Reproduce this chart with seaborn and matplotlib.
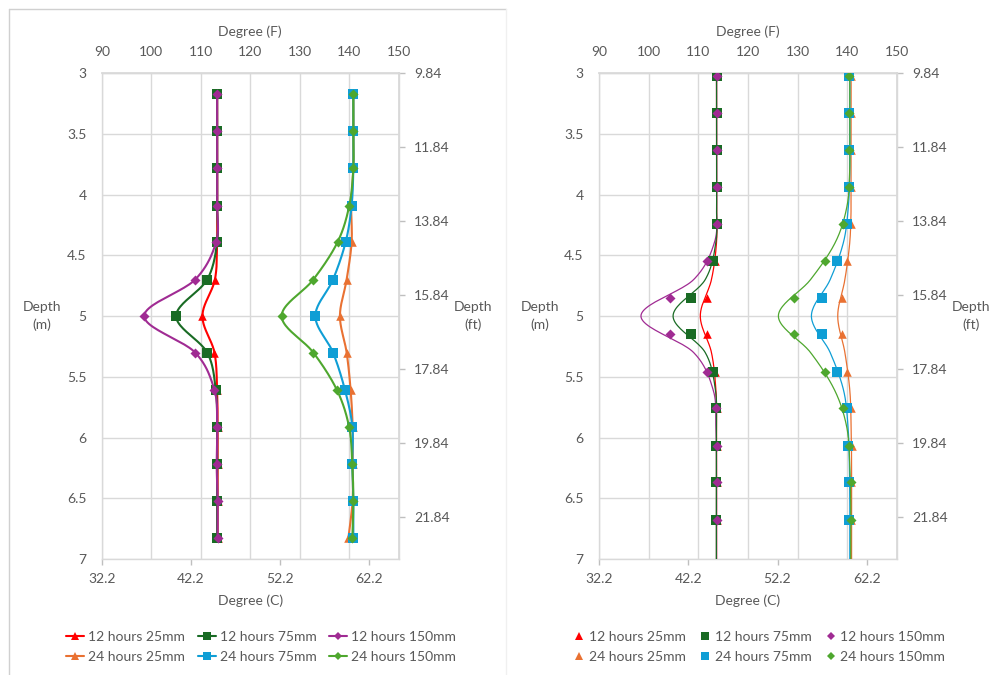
import numpy as np
import matplotlib
matplotlib.use("Agg")
import matplotlib.pyplot as plt
from matplotlib.lines import Line2D
import seaborn as sns

sns.set_theme(style="white")
plt.rcParams['font.family'] = ['Lato', 'DejaVu Sans']

# ---- data ----
series_names = ['12 hours 25mm', '12 hours 75mm', '12 hours 150mm',
                '24 hours 25mm', '24 hours 75mm', '24 hours 150mm']
series_colors = ['#FF0000', '#196B24', '#A02B93', '#E97132', '#0F9ED5', '#4EA72E']
series_markers = ['^', 's', 'D', '^', 's', 'D']

# left panel: lines with markers, depth (m)
depth_left = [3.17, 3.48, 3.78, 4.09, 4.39, 4.70, 5.00, 5.30, 5.61, 5.91, 6.22, 6.52, 6.83]
h12_25 = [45.15, 45.15, 45.15, 45.15, 45.15, 44.90, 43.50, 44.85, 45.15, 45.20, 45.20, 45.20, 45.20]
h12_75 = [45.15, 45.15, 45.15, 45.15, 45.15, 44.03, 40.55, 44.03, 45.00, 45.15, 45.15, 45.15, 45.15]
h12_150 = [45.15, 45.15, 45.15, 45.15, 45.04, 42.68, 36.97, 42.68, 44.85, 45.15, 45.10, 45.20, 45.20]
h24_25 = [60.43, 60.43, 60.43, 60.20, 60.24, 59.68, 58.93, 59.68, 60.13, 60.35, 60.35, 60.35, 59.87]
h24_75 = [60.43, 60.43, 60.43, 60.24, 59.57, 58.15, 56.17, 58.15, 59.50, 60.32, 60.32, 60.43, 60.43]
h24_150 = [60.43, 60.43, 60.43, 59.98, 58.67, 55.94, 52.39, 55.94, 58.60, 59.95, 60.32, 60.43, 60.32]

# right panel: smooth lines (no markers) ...
depth_rline = [3.00, 3.17, 3.48, 3.78, 4.09, 4.39, 4.70, 5.00, 5.30, 5.61, 5.91, 6.22, 6.52, 6.83, 7.00]
r12_25_line = [45.37, 45.37, 45.37, 45.37, 45.37, 45.37, 44.80, 43.55, 44.80, 45.30, 45.37, 45.37, 45.37, 45.37, 45.37]
r12_75_line = [45.37, 45.37, 45.37, 45.37, 45.37, 45.30, 44.10, 40.50, 44.10, 45.25, 45.35, 45.35, 45.35, 45.35, 45.35]
r12_150_line = [45.37, 45.37, 45.37, 45.37, 45.37, 45.15, 42.80, 36.90, 42.80, 45.00, 45.30, 45.37, 45.37, 45.37, 45.37]
r24_25_line = [60.45, 60.45, 60.45, 60.45, 60.45, 60.30, 59.75, 58.95, 59.75, 60.30, 60.45, 60.50, 60.50, 60.50, 60.50]
r24_75_line = [60.30, 60.30, 60.30, 60.30, 60.15, 59.60, 58.10, 56.00, 58.10, 59.60, 60.10, 60.25, 60.30, 60.30, 60.30]
r24_150_line = [60.30, 60.30, 60.30, 60.30, 60.00, 58.70, 55.90, 52.30, 55.90, 58.60, 59.95, 60.30, 60.40, 60.40, 60.40]

# ... and markers at shifted depths
depth_rmark = [3.02, 3.33, 3.63, 3.94, 4.24, 4.55, 4.85, 5.15, 5.46, 5.76, 6.07, 6.37, 6.68]
r12_25 = [45.37, 45.37, 45.37, 45.37, 45.37, 45.22, 44.28, 44.28, 45.22, 45.37, 45.37, 45.37, 45.37]
r12_75 = [45.37, 45.37, 45.37, 45.37, 45.37, 44.92, 42.53, 42.53, 44.92, 45.30, 45.30, 45.30, 45.30]
r12_150 = [45.37, 45.37, 45.37, 45.37, 45.37, 44.28, 40.10, 40.10, 44.28, 45.30, 45.37, 45.37, 45.37]
r24_25 = [60.41, 60.41, 60.41, 60.41, 60.41, 60.04, 59.40, 59.40, 60.04, 60.41, 60.55, 60.45, 60.45]
r24_75 = [60.26, 60.26, 60.26, 60.26, 59.96, 58.85, 57.16, 57.16, 58.85, 59.96, 60.15, 60.26, 60.26]
r24_150 = [60.26, 60.26, 60.26, 60.26, 59.59, 57.57, 54.06, 54.06, 57.57, 59.50, 60.26, 60.41, 60.41]

c_ticks = [32.2, 42.2, 52.2, 62.2]
f_ticks = [90, 100, 110, 120, 130, 140, 150]
m_ticks = [3, 3.5, 4, 4.5, 5, 5.5, 6, 6.5, 7]
ft_ticks = [9.84, 11.84, 13.84, 15.84, 17.84, 19.84, 21.84]

GRAY = '#595959'
GRID = '#d9d9d9'
W, H = 992, 675


def c2f(c):
    return np.asarray(c) * 1.8 + 32


def f2c(f):
    return (np.asarray(f) - 32) / 1.8


def m2ft(m):
    return np.asarray(m) * 3.28084


def ft2m(ft):
    return np.asarray(ft) / 3.28084


def smooth(x, y, sx=8.92, sy=121.5, n=24):
    # Excel-like smoothed line (Catmull-Rom Bezier in screen-ish space)
    pts = np.column_stack([np.asarray(x) * sx, np.asarray(y) * sy])
    P = np.vstack([pts[0], pts, pts[-1]])
    t = np.linspace(0, 1, n)[:, None]
    segs = []
    for i in range(1, len(P) - 2):
        p0, p1, p2, p3 = P[i - 1], P[i], P[i + 1], P[i + 2]
        c1 = p1 + (p2 - p0) / 6
        c2 = p2 - (p3 - p1) / 6
        segs.append((1 - t) ** 3 * p1 + 3 * (1 - t) ** 2 * t * c1
                    + 3 * (1 - t) * t ** 2 * c2 + t ** 3 * p2)
    s = np.vstack(segs)
    return s[:, 0] / sx, s[:, 1] / sy


def px_axes(x0, y0, x1, y1):
    return [x0 / W, 1 - y1 / H, (x1 - x0) / W, (y1 - y0) / H]


def style_axes(ax):
    ax.set_xlim(f2c(90), f2c(150))
    ax.set_ylim(7, 2.999)
    ax.set_axisbelow(True)
    ax.set_xticks(c_ticks)
    ax.set_xticklabels([f'{v:.1f}' for v in c_ticks])
    ax.set_xticks(f2c(f_ticks), minor=True)
    ax.set_yticks(m_ticks)
    ax.set_yticklabels([f'{v:g}' for v in m_ticks])
    ax.grid(False)
    ax.grid(True, which='minor', axis='x', color=GRID, lw=1)
    ax.grid(True, which='major', axis='y', color=GRID, lw=1)
    ax.tick_params(axis='x', which='minor', length=0)
    ax.tick_params(axis='x', which='major', direction='out', length=4, width=1,
                   color='#bfbfbf', labelsize=10, labelcolor=GRAY, pad=6, bottom=True)
    ax.tick_params(axis='y', length=0, labelsize=10, labelcolor=GRAY, pad=11)
    for s in ax.spines.values():
        s.set_color(GRID)
        s.set_linewidth(1)
    ax.set_xlabel('')
    ax.set_ylabel('')

    top = ax.secondary_xaxis('top', functions=(c2f, f2c))
    top.set_xticks(f_ticks)
    top.set_xticklabels([str(v) for v in f_ticks])
    top.tick_params(length=0, labelsize=10, labelcolor=GRAY, pad=11)
    top.spines['top'].set_color(GRID)

    right = ax.secondary_yaxis('right', functions=(m2ft, ft2m))
    right.set_yticks(ft_ticks)
    right.set_yticklabels([f'{v:.2f}' for v in ft_ticks])
    right.tick_params(length=4, width=1, direction='out', color='#bfbfbf',
                      labelsize=10, labelcolor=GRAY, pad=7)
    right.spines['right'].set_color(GRID)


fig = plt.figure(figsize=(W / 100, H / 100), dpi=100)
ax1 = fig.add_axes(px_axes(101.7, 73, 399, 559))
ax2 = fig.add_axes(px_axes(599, 73, 896.7, 559))

# chart-area border of the left chart
fig.add_artist(Line2D([9 / W, 506 / W], [1 - 9 / H, 1 - 9 / H], color='#d0d0d0', lw=1))
fig.add_artist(Line2D([9 / W, 9 / W], [1 - 9 / H, 0], color='#d0d0d0', lw=1))
fig.add_artist(Line2D([506 / W, 506 / W], [1 - 9 / H, 0], color='#f0f0f0', lw=1))

left_vals = [h12_25, h12_75, h12_150, h24_25, h24_75, h24_150]
rline_vals = [r12_25_line, r12_75_line, r12_150_line, r24_25_line, r24_75_line, r24_150_line]
rmark_vals = [r12_25, r12_75, r12_150, r24_25, r24_75, r24_150]
msize = {'^': 38, 's': 42, 'D': 26}

for i, (vals, col, mk) in enumerate(zip(left_vals, series_colors, series_markers)):
    cx, cy = smooth(vals, depth_left)
    sns.lineplot(x=cx, y=cy, sort=False, estimator=None, color=col,
                 linewidth=1.5, ax=ax1, zorder=2 + 2 * i)
    sns.scatterplot(x=vals, y=depth_left, marker=mk, s=msize[mk], color=col,
                    linewidth=0, ax=ax1, zorder=3 + 2 * i, legend=False)

# in the right panel the dark green 12-hour line sits on top
line_z = [2, 5, 3, 4, 6, 7]
for i, (lv, col) in enumerate(zip(rline_vals, series_colors)):
    cx, cy = smooth(lv, depth_rline)
    sns.lineplot(x=cx, y=cy, sort=False, estimator=None, color=col,
                 linewidth=0.9, ax=ax2, zorder=line_z[i])
for i, (mv, col, mk) in enumerate(zip(rmark_vals, series_colors, series_markers)):
    sns.scatterplot(x=mv, y=depth_rmark, marker=mk, s=msize[mk], color=col,
                    linewidth=0, ax=ax2, zorder=10 + i, legend=False)

for ax in (ax1, ax2):
    style_axes(ax)

# axis titles
for cx_, lx, rx in ((250.3, 42, 473), (747.7, 540, 971)):
    fig.text(cx_ / W, 1 - 32 / H, 'Degree (F)', ha='center', va='center', fontsize=10, color=GRAY)
    fig.text(cx_ / W, 1 - 601 / H, 'Degree (C)', ha='center', va='center', fontsize=10, color=GRAY)
    fig.text(lx / W, 1 - 316 / H, 'Depth\n(m)', ha='center', va='center', fontsize=10,
             color=GRAY, linespacing=1.5)
    fig.text(rx / W, 1 - 316 / H, 'Depth\n(ft)', ha='center', va='center', fontsize=10,
             color=GRAY, linespacing=1.5)

# legends (order so rows read 12 hours / 24 hours)
order = [0, 3, 1, 4, 2, 5]
h_left = [Line2D([], [], color=series_colors[k], marker=series_markers[k], lw=1.5,
                 markersize=6 if series_markers[k] != 'D' else 4.5, markeredgewidth=0) for k in order]
h_right = [Line2D([], [], color=series_colors[k], marker=series_markers[k], lw=0,
                  markersize=6 if series_markers[k] != 'D' else 4.5, markeredgewidth=0) for k in order]
labels = [series_names[k] for k in order]

fig.legend(h_left, labels, ncol=3, loc='center', bbox_to_anchor=(261 / W, 1 - 647 / H),
           frameon=False, fontsize=10, labelcolor=GRAY, handlelength=1.3, handletextpad=0.3,
           columnspacing=0.9, labelspacing=0.6, borderaxespad=0, borderpad=0)
fig.legend(h_right, labels, ncol=3, loc='center', bbox_to_anchor=(760 / W, 1 - 647 / H),
           frameon=False, fontsize=10, labelcolor=GRAY, handlelength=0.6, handletextpad=0.4,
           columnspacing=1.1, labelspacing=0.6, borderaxespad=0, borderpad=0)

fig.savefig('out.png', dpi=100)
